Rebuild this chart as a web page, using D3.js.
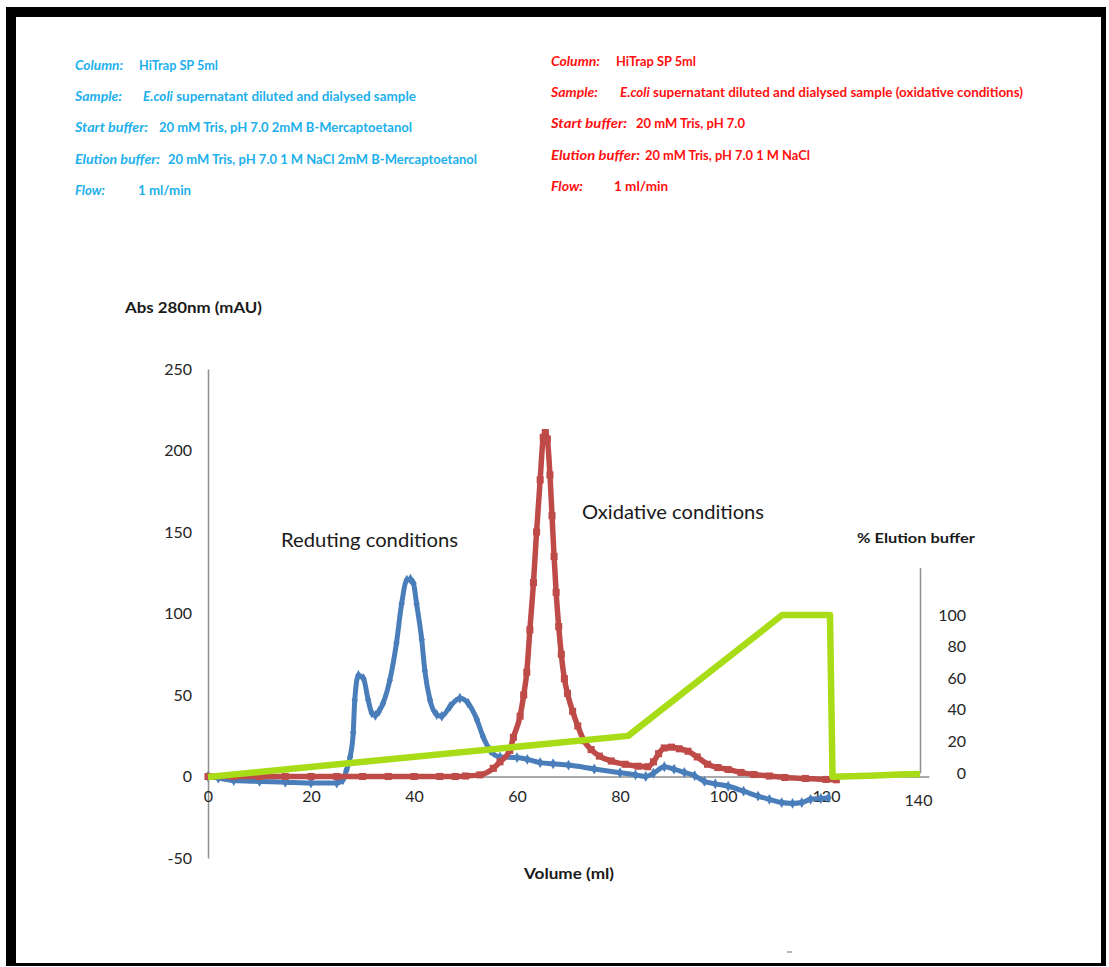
<!DOCTYPE html>
<html>
<head>
<meta charset="utf-8">
<script src="https://cdn.jsdelivr.net/npm/d3@7"></script>
<style>
  html, body { margin: 0; padding: 0; background: #fff; }
  svg { display: block; }
  text { font-family: Lato, "Open Sans", "Liberation Sans", sans-serif; }
</style>
</head>
<body>
<svg id="chart" width="1109" height="967"></svg>
<script>
// ---- Chromatogram data: HiTrap SP 5 ml cation exchange runs ----
const volumeTicks = [0, 20, 40, 60, 80, 100, 120];
const absTicks = [-50, 0, 50, 100, 150, 200, 250];
const elutionTicks = [0, 20, 40, 60, 80, 100];
const elutionVolumeEndTick = [140];

// Reducing conditions (blue), volume in ml / Abs 280 nm in mAU
const reducingVolume = [0, 2, 5, 10, 15, 20, 25, 26.2, 26.9, 27.6, 28.2, 28.5, 29.2, 30.2, 31.1, 31.8, 32.5, 33.2, 34, 35.3, 36.6, 37.6, 38.6, 39.3, 39.9, 40.5, 41.5, 42.1, 43.1, 44.4, 45.4, 47, 48.9, 50.5, 52.2, 53.4, 54.8, 56.7, 60, 62, 64.5, 67, 70, 75, 80, 83, 85, 86.5, 88.6, 90.5, 92.5, 94.5, 96.4, 98.5, 101, 104, 106.8, 109, 111.4, 113.5, 115.3, 117, 119, 120.5];
const reducingAbs = [0, -1, -2.5, -3, -3.5, -4, -4, -2, 4, 12, 27, 47, 62, 60, 47, 39, 37.5, 40, 45, 59, 82, 106, 120.5, 121, 118.5, 106, 84, 65, 47, 38, 37, 43, 48, 45, 35, 24.5, 16, 12, 11.6, 10.5, 8.5, 7.8, 7, 4.6, 2.3, 1, 0, 2, 6, 4.5, 2.5, 0.5, -3, -4.5, -6, -9, -12, -14, -16, -16.5, -16, -14, -13.5, -13];

// Oxidative conditions (red)
const oxidativeVolume = [0, 5, 10, 15, 20, 25, 30, 35, 40, 45, 48, 50, 52.8, 55.4, 56.7, 58.6, 59.3, 60.6, 61.3, 61.9, 62.5, 63.2, 63.8, 64.5, 65.1, 65.5, 65.9, 66.4, 66.8, 67.2, 67.6, 68.1, 68.6, 69.2, 69.8, 70.8, 71.8, 73, 74.4, 76, 78.3, 81, 83.5, 85.4, 86.5, 87.5, 88.6, 90, 91.5, 93.2, 95, 97, 99, 101, 103.5, 106, 109, 112, 116, 120, 122];
const oxidativeAbs = [0, 0, 0, 0, 0, 0, 0, 0, 0, 0, 0, 0.3, 1, 5, 9, 16, 24, 37, 50, 64, 90, 119, 150, 182, 208, 211, 207, 185, 160, 135, 113, 92, 75, 60, 51, 40, 31, 22, 16.5, 12.5, 9.5, 7.5, 6.3, 6, 9, 14, 17.5, 18, 17, 15.5, 12, 7.5, 5.5, 4.3, 2.5, 1.2, 0.3, -0.6, -1.2, -1.8, -2];

// Salt gradient (green), % elution buffer
const gradientVolume = [0, 82.6, 112.9, 122.3, 122.8, 130, 136, 140];
const gradientPercent = [-2.5, 23.5, 100, 100, -2.3, -1.8, -1, -0.6];

// Run conditions printed above the chart
const noteLabels = ["Column:", "Sample:", "Start buffer:", "Elution buffer:", "Flow:"];
const sampleSpecies = "E.coli";
const reducingNoteValues = ["HiTrap SP 5ml", " supernatant diluted and dialysed sample", "20 mM Tris, pH 7.0 2mM B-Mercaptoetanol", "20 mM Tris, pH 7.0 1 M NaCl 2mM B-Mercaptoetanol", "1 ml/min"];
const oxidativeNoteValues = ["HiTrap SP 5ml", " supernatant diluted and dialysed sample (oxidative conditions)", "20 mM Tris, pH 7.0", "20 mM Tris, pH 7.0 1 M NaCl", "1 ml/min"];

// ---- drawing ----
const svg = d3.select("#chart");

// picture frame
svg.append("rect").attr("x", 6).attr("y", 7).attr("width", 1100).attr("height", 959).attr("fill", "#000");
svg.append("rect").attr("x", 16).attr("y", 17).attr("width", 1085).attr("height", 946).attr("fill", "#fff");
svg.append("rect").attr("x", 787).attr("y", 951).attr("width", 5).attr("height", 2).attr("fill", "#b5b5b5");

// condition notes
const noteBlocks = [
  { values: reducingNoteValues, color: "#1db0ec", x: 75, y: 65,
    labelW: [48, 47, 73, 85, 30], valueX: [139, 143, 159, 168, 138], valueW: [79, 273, 253, 309, 53] },
  { values: oxidativeNoteValues, color: "#ff1010", x: 551, y: 61,
    labelW: [49, 47, 76, 89, 32], valueX: [616, 620, 636, 645, 614], valueW: [80, 403, 109, 165, 54] }
];
const rowGap = 31.3;
noteBlocks.forEach(b => {
  const g = svg.append("g").attr("fill", b.color).attr("font-size", 13).attr("font-weight", 700);
  noteLabels.forEach((lab, i) => {
    const yy = b.y + i * rowGap;
    g.append("text").attr("x", b.x).attr("y", yy).attr("dy", "0.36em")
      .attr("font-style", "italic").attr("textLength", b.labelW[i])
      .attr("lengthAdjust", "spacingAndGlyphs").text(lab);
    const t = g.append("text").attr("x", b.valueX[i]).attr("y", yy).attr("dy", "0.36em")
      .attr("textLength", b.valueW[i]).attr("lengthAdjust", "spacingAndGlyphs");
    if (i === 1) {
      t.append("tspan").attr("font-style", "italic").text(sampleSpecies);
      t.append("tspan").text(b.values[i]);
    } else {
      t.text(b.values[i]);
    }
  });
});

// scales
const x = d3.scaleLinear().domain([0, 140]).range([208, 929]);
const y = d3.scaleLinear().domain([-50, 250]).range([858, 369]);
const xE = d3.scaleLinear().domain([0, 140]).range([208, 920]);
const yE = d3.scaleLinear().domain([0, 130]).range([773, 567.6]);

const axisColor = "#8f8f8f";
const tickColor = "#262626";
const plain = d => String(d);

function styleAxis(g) {
  g.select(".domain").attr("stroke", axisColor).attr("stroke-width", 1.5);
  g.selectAll(".tick line").remove();
  g.selectAll(".tick text").attr("fill", tickColor).attr("font-size", 16)
    .attr("font-family", "Lato, 'Open Sans', sans-serif");
}

// left axis (Abs)
svg.append("g").attr("transform", `translate(${x(0)},0)`)
  .call(d3.axisLeft(y).tickValues(absTicks).tickSize(0).tickSizeOuter(0).tickPadding(16).tickFormat(plain))
  .call(styleAxis);

// bottom axis (volume)
svg.append("g").attr("transform", `translate(0,${y(0)})`)
  .call(d3.axisBottom(x).tickValues(volumeTicks).tickSize(0).tickSizeOuter(0).tickPadding(14).tickFormat(plain))
  .call(styleAxis);

// right axis (% elution buffer)
const rightAxis = svg.append("g").attr("transform", `translate(${xE(140)},0)`)
  .call(d3.axisRight(yE).tickValues(elutionTicks).tickSize(0).tickSizeOuter(0).tickFormat(plain))
  .call(styleAxis);
rightAxis.selectAll(".tick text").attr("text-anchor", "end").attr("x", 46);

// end-of-run volume label for the gradient trace
svg.append("g").attr("transform", `translate(0,${yE(0)})`)
  .call(d3.axisBottom(xE).tickValues(elutionVolumeEndTick).tickSize(0).tickSizeOuter(0).tickPadding(22).tickFormat(plain))
  .call(styleAxis)
  .call(g => g.select(".domain").remove())
  .selectAll(".tick text").attr("dx", -2);

// traces
const reducing = reducingVolume.map((v, i) => [v, reducingAbs[i]]);
const oxidative = oxidativeVolume.map((v, i) => [v, oxidativeAbs[i]]);
const gradient = gradientVolume.map((v, i) => [v, gradientPercent[i]]);

const absLine = d3.line().x(d => x(d[0])).y(d => y(d[1])).curve(d3.curveMonotoneX);
const gradLine = d3.line().x(d => xE(d[0])).y(d => yE(d[1]));

const blue = "#4a7ebb", red = "#be4b48", green = "#a8dc16";

svg.append("path").datum(reducing).attr("d", absLine)
  .attr("fill", "none").attr("stroke", blue).attr("stroke-width", 5).attr("stroke-linejoin", "round");
svg.append("g").selectAll("path").data(reducing).join("path")
  .attr("transform", d => `translate(${x(d[0])},${y(d[1])})`)
  .attr("d", d3.symbol(d3.symbolDiamond, 34)).attr("fill", blue);

svg.append("path").datum(oxidative).attr("d", absLine)
  .attr("fill", "none").attr("stroke", red).attr("stroke-width", 5.5).attr("stroke-linejoin", "round");
svg.append("g").selectAll("path").data(oxidative).join("path")
  .attr("transform", d => `translate(${x(d[0])},${y(d[1])})`)
  .attr("d", d3.symbol(d3.symbolSquare, 50)).attr("fill", red);

svg.append("path").datum(gradient).attr("d", gradLine)
  .attr("fill", "none").attr("stroke", green).attr("stroke-width", 6.5).attr("stroke-linejoin", "round");

// chart captions
const captions = [
  { text: "Abs 280nm (mAU)", x: 125, y: 308, w: 137, size: 15, weight: 700 },
  { text: "Reduting conditions", x: 281, y: 540, w: 177, size: 20, weight: 400 },
  { text: "Oxidative conditions", x: 582, y: 512, w: 182, size: 20, weight: 400 },
  { text: "% Elution buffer", x: 857, y: 538, w: 118, size: 14, weight: 700 },
  { text: "Volume (ml)", x: 524, y: 874, w: 90, size: 15, weight: 700 }
];
svg.append("g").selectAll("text").data(captions).join("text")
  .attr("x", d => d.x).attr("y", d => d.y).attr("dy", "0.36em")
  .attr("font-size", d => d.size).attr("font-weight", d => d.weight)
  .attr("fill", "#1a1a1a")
  .attr("textLength", d => d.w).attr("lengthAdjust", "spacingAndGlyphs")
  .text(d => d.text);
</script>
</body>
</html>
